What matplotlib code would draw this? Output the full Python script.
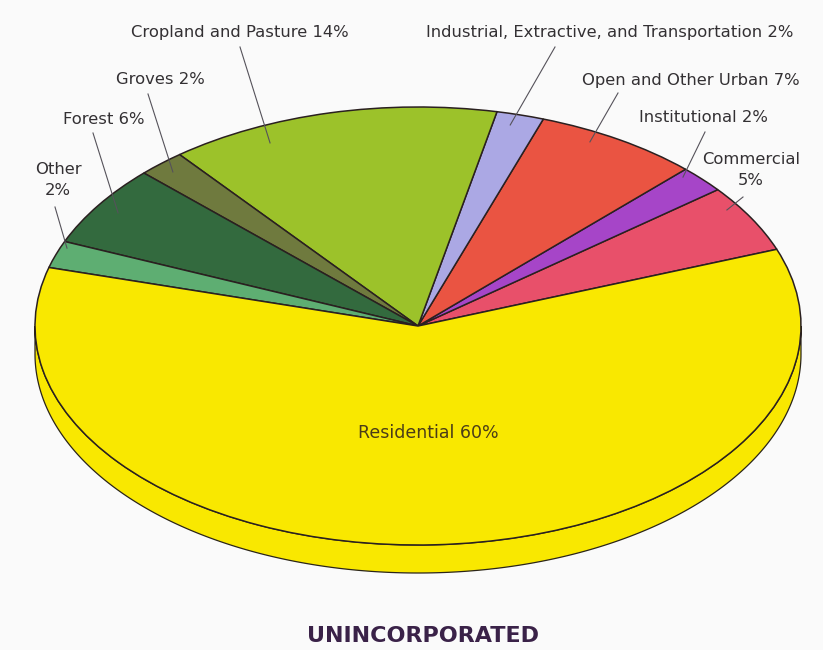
import numpy as np
import matplotlib
matplotlib.use('Agg')
import matplotlib.pyplot as plt
from matplotlib.patches import Polygon

# land use shares, counterclockwise from the right side of the pie
categories = ['Commercial', 'Institutional', 'Open and Other Urban',
              'Industrial, Extractive, and Transportation', 'Cropland and Pasture',
              'Groves', 'Forest', 'Other', 'Residential']
shares = [5, 2, 7, 2, 14, 2, 6, 2, 60]
colors = ['#e8506a', '#a645c8', '#ea5442', '#aba8e4', '#9cc22a',
          '#6f7a3e', '#336a3e', '#5eae72', '#f9e800']
title = 'UNINCORPORATED'

# label text, text position (px), leader start (px), leader end (angle deg, radius)
label_text = ['Commercial\n5%', 'Institutional 2%', 'Open and Other Urban 7%',
              'Industrial, Extractive, and Transportation 2%', 'Cropland and Pasture 14%',
              'Groves 2%', 'Forest 6%', 'Other\n2%', 'Residential 60%']
label_xy = [(751, 170), (703, 118), (691, 80), (610, 32), (240, 33),
            (160, 80), (104, 120), (58, 180), (428, 433)]
leader_from = [(743, 197), (705, 132), (618, 93), (555, 47), (240, 47),
               (148, 94), (93, 133), (55, 207), None]
leader_to = [(33.3, 0.965), (44.5, 0.97), (61.9, 0.953), (75.3, 0.949), (114.8, 0.921),
             (132.3, 0.951), (146.6, 0.938), (158.8, 0.983), None]

W, H = 823, 650
cx, cy = 418, 326          # centre of the top face in pixels
a_px, b_px = 383, 219      # semi axes of the top face
depth = 28 / b_px          # thickness of the disc in data units


def px(x, y):
    return (x - cx) / a_px, (cy - y) / b_px


fig = plt.figure(figsize=(W / 100, H / 100), dpi=100)
fig.patch.set_facecolor('#fafafa')
ax = fig.add_axes([0, 0, 1, 1])
ax.set_facecolor('#fafafa')

# side of the disc (front half only)
t = np.linspace(np.pi, 2 * np.pi, 300)
lower = np.column_stack([np.cos(t), np.sin(t) - depth])
upper = np.column_stack([np.cos(t[::-1]), np.sin(t[::-1])])
side = Polygon(np.vstack([lower, upper]), closed=True, facecolor=colors[-1],
               edgecolor='#2a2418', linewidth=0.9, zorder=1)
ax.add_patch(side)

wedges, _ = ax.pie(shares, colors=colors, startangle=20.5, counterclock=True,
                   radius=1, wedgeprops=dict(edgecolor='#2a2020', linewidth=1.1))
for w in wedges:
    w.set_zorder(2)

ax.set_aspect('auto')
ax.set_xlim(px(0, 0)[0], px(W, 0)[0])
ax.set_ylim(px(0, H)[1], px(0, 0)[1])
ax.axis('off')

for i, txt in enumerate(label_text):
    x, y = px(*label_xy[i])
    if categories[i] == 'Residential':
        ax.text(x, y, txt, ha='center', va='center', fontsize=12.5,
                color='#4a3c18', zorder=5)
        continue
    ax.text(x, y, txt, ha='center', va='center', fontsize=11.8,
            color='#333033', linespacing=1.45, zorder=5)
    ang, r = leader_to[i]
    x0, y0 = px(*leader_from[i])
    x1 = r * np.cos(np.radians(ang))
    y1 = r * np.sin(np.radians(ang))
    ax.plot([x0, x1], [y0, y1], color='#55525a', linewidth=0.8, zorder=4)

tx, ty = px(423, 636)
ax.text(tx, ty, title, ha='center', va='center', fontsize=16, fontweight='bold',
        color='#3a2248', zorder=5)

fig.savefig('out.png', dpi=100, facecolor=fig.get_facecolor())
